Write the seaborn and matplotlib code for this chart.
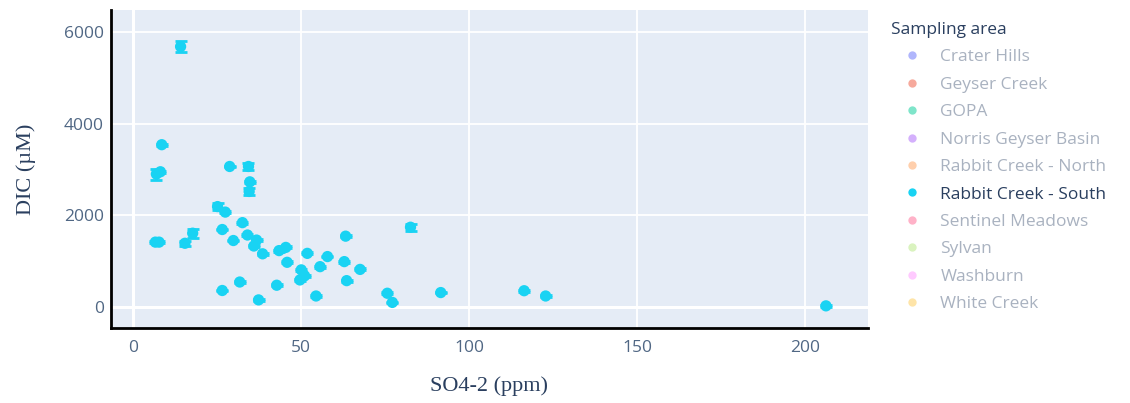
import pandas as pd
import matplotlib
matplotlib.use("Agg")
import matplotlib.pyplot as plt
from matplotlib.lines import Line2D
import seaborn as sns

# data (Rabbit Creek - South only)
so4 = [14.2, 8.6, 7.0, 8.2, 28.8, 34.4, 34.8, 34.6, 25.2, 27.5, 32.6, 26.6, 34.1,
       36.8, 36.0, 17.8, 6.7, 7.8, 15.5, 29.9, 38.6, 43.5, 45.5, 45.9, 51.9, 57.9,
       55.7, 62.9, 63.3, 67.6, 50.1, 51.1, 49.7, 63.6, 26.6, 31.8, 42.8, 37.4, 54.5,
       75.7, 77.2, 82.6, 91.6, 116.4, 122.8, 206.2]
dic = [5680, 3540, 2900, 2950, 3065, 3065, 2730, 2520, 2190, 2070, 1840, 1690, 1570,
       1460, 1330, 1610, 1415, 1415, 1390, 1450, 1160, 1230, 1300, 975, 1170, 1100,
       880, 990, 1545, 820, 810, 680, 590, 575, 360, 545, 475, 155, 240,
       300, 100, 1740, 315, 355, 240, 25]
dic_err = [120, 20, 120, 20, 20, 75, 20, 80, 80, 20, 20, 20, 20,
           20, 20, 95, 20, 20, 50, 20, 20, 20, 20, 20, 20, 20,
           20, 20, 20, 20, 20, 20, 20, 20, 20, 20, 20, 20, 20,
           20, 20, 75, 20, 20, 20, 20]

areas = ["Crater Hills", "Geyser Creek", "GOPA", "Norris Geyser Basin",
         "Rabbit Creek - North", "Rabbit Creek - South", "Sentinel Meadows",
         "Sylvan", "Washburn", "White Creek"]
area_colors = ["#636EFA", "#EF553B", "#00CC96", "#AB63FA", "#FFA15A",
               "#19D3F3", "#FF6692", "#B6E880", "#FF97FF", "#FECB52"]
shown = "Rabbit Creek - South"

df = pd.DataFrame({"so4": so4, "dic": dic, "err": dic_err})
cyan = area_colors[areas.index(shown)]
text_col = "#2a3f5f"
tick_col = "#506784"

fig = plt.figure(figsize=(11.3, 4.03), dpi=100)
ax = fig.add_axes([111/1130, 75/403, 757/1130, 318/403])
ax.set_facecolor("#E5ECF6")

# error bars then points
ax.errorbar(df["so4"], df["dic"], yerr=df["err"], fmt="none", ecolor=cyan,
            elinewidth=2, capsize=4, capthick=2, zorder=3)
sns.scatterplot(data=df, x="so4", y="dic", color=cyan, s=66, edgecolor="none",
                ax=ax, zorder=4, legend=False)

ax.set_xlim(-6.5, 218.7)
ax.set_ylim(-458, 6478)
ax.set_xticks([0, 50, 100, 150, 200])
ax.set_yticks([0, 2000, 4000, 6000])
ax.grid(True, color="white", linewidth=1.3)
ax.set_axisbelow(True)
ax.axhline(0, color="white", linewidth=2.2, zorder=1)
ax.axvline(0, color="white", linewidth=2.2, zorder=1)

for s in ["top", "right"]:
    ax.spines[s].set_visible(False)
for s in ["left", "bottom"]:
    ax.spines[s].set_color("black")
    ax.spines[s].set_linewidth(2)

ax.tick_params(axis="both", length=0, colors=tick_col, labelsize=12.5)
ax.tick_params(axis="x", pad=9)
ax.tick_params(axis="y", pad=5)
for lab in ax.get_xticklabels() + ax.get_yticklabels():
    lab.set_family("Open Sans")

ax.set_xlabel("SO4-2 (ppm)", family="Liberation Serif", fontsize=16,
              color=text_col, labelpad=14)
ax.set_ylabel("DIC (µM)", family="Liberation Serif", fontsize=16,
              color=text_col, labelpad=20)

# legend with hidden traces greyed out
handles = []
for a, c in zip(areas, area_colors):
    handles.append(Line2D([], [], marker="o", linestyle="", markersize=6,
                          markerfacecolor=c, markeredgecolor="none",
                          alpha=1.0 if a == shown else 0.5))
leg = fig.legend(handles, areas, title="Sampling area", loc="upper left",
                 bbox_to_anchor=(884/1130, 388/403), frameon=False,
                 prop={"family": "Open Sans", "size": 12.5},
                 labelspacing=0.65, handletextpad=0.45, handlelength=2.4,
                 borderaxespad=0)
leg._legend_box.align = "left"
leg.get_title().set_family("Open Sans")
leg.get_title().set_fontsize(12.5)
leg.get_title().set_color(text_col)
for t, a in zip(leg.get_texts(), areas):
    t.set_color(text_col if a == shown else "#a9b2c0")

fig.savefig("out.png", dpi=100)
